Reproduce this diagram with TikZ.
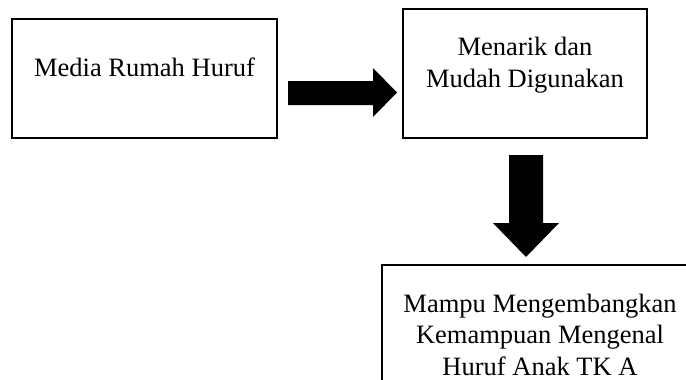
\documentclass[tikz,border=0pt]{standalone}
\usepackage{fontspec}
\setmainfont{Liberation Serif}
\begin{document}
\begin{tikzpicture}[x=1pt,y=1pt,
  box/.style={draw=black,line width=1.1pt},
  lbl/.style={font=\fontsize{26.5}{31.3}\selectfont,align=center,inner sep=0pt,anchor=base},
  blockarrow/.style={fill=black,draw=none}]
\useasboundingbox (0,0) rectangle (686,-380);
\clip (0,0) rectangle (686,-380);
% boxes
\draw[box] (12,-19) rectangle (277,-138);
\draw[box] (403,-9) rectangle (647,-138);
\draw[box] (382,-265) rectangle (698,-430);
% texts (base anchor = last line baseline)
\node[lbl] (t1) at (144.5,-76) {Media Rumah Huruf};
\node[lbl] (t2) at (525,-87) {Menarik dan\\Mudah Digunakan};
\node[lbl] (t3) at (540,-375) {Mampu Mengembangkan\\Kemampuan Mengenal\\Huruf Anak TK A};
% right block arrow
\fill[blockarrow] (288,-81) -- (373,-81) -- (373,-68) -- (397,-92.5) -- (373,-117) -- (373,-105) -- (288,-105) -- cycle;
% down block arrow
\fill[blockarrow] (509,-155) -- (543,-155) -- (543,-223) -- (559,-223) -- (526,-257) -- (493,-223) -- (509,-223) -- cycle;
\end{tikzpicture}
\end{document}
